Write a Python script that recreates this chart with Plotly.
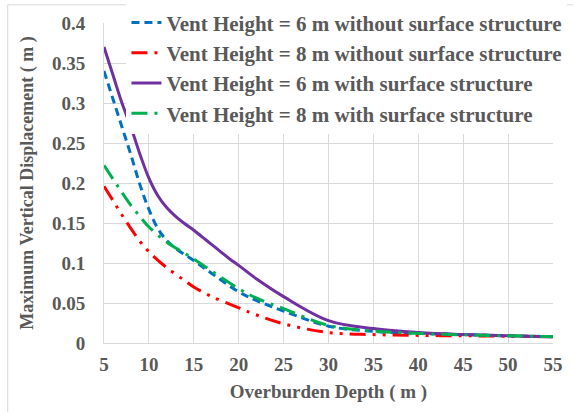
import plotly.graph_objects as go

# Data
x_blue = [5, 6, 7, 8, 9, 10, 11, 12, 13, 15, 17, 20, 22, 25, 30, 35, 40, 45, 50, 55]
y_blue = [0.34, 0.305, 0.27, 0.235, 0.198, 0.167, 0.143, 0.128, 0.118, 0.103, 0.087, 0.064, 0.053, 0.04, 0.021, 0.0145, 0.012, 0.0105, 0.009, 0.008]

x_red = [5, 6, 7, 8, 9, 10, 12, 14, 15, 17, 20, 22, 25, 30, 35, 40, 45, 50, 55]
y_red = [0.196, 0.178, 0.16, 0.143, 0.127, 0.114, 0.094, 0.078, 0.07, 0.058, 0.044, 0.035, 0.024, 0.013, 0.0105, 0.0095, 0.009, 0.0085, 0.008]

x_purple = [5, 6, 7, 8, 9, 10, 11, 12, 13, 14, 15, 16, 17, 18, 19, 20, 22, 25, 30, 35, 40, 45, 50, 55]
y_purple = [0.37, 0.335, 0.3, 0.27, 0.236, 0.206, 0.184, 0.169, 0.158, 0.149, 0.141, 0.132, 0.123, 0.114, 0.105, 0.097, 0.08, 0.058, 0.028, 0.018, 0.013, 0.0105, 0.009, 0.0075]

x_green = [5, 6, 7, 8, 9, 10, 12, 14, 15, 17, 20, 22, 25, 30, 35, 40, 45, 50, 55]
y_green = [0.222, 0.205, 0.188, 0.172, 0.158, 0.145, 0.126, 0.112, 0.105, 0.09, 0.068, 0.056, 0.043, 0.022, 0.015, 0.012, 0.0102, 0.009, 0.008]

names = [
    "Vent Height = 6 m without surface structure",
    "Vent Height = 8 m without surface structure",
    "Vent Height = 6 m with surface structure",
    "Vent Height = 8 m with surface structure",
]

x_ticks = [5, 10, 15, 20, 25, 30, 35, 40, 45, 50, 55]

FONT = "Liberation Serif"
TXT = "#595959"
W, H = 573, 412

fig = go.Figure()
fig.add_trace(go.Scatter(x=x_blue, y=y_blue, mode="lines", name=names[0], legendgroup="a",
                         line=dict(color="#0070C0", width=3, dash="8px,5px", shape="spline")))
fig.add_trace(go.Scatter(x=x_red, y=y_red, mode="lines", name=names[1], legendgroup="b",
                         line=dict(color="#FF0000", width=3, dash="16px,7px,3px,7px,3px,7px", shape="spline")))
fig.add_trace(go.Scatter(x=x_purple, y=y_purple, mode="lines", name=names[2], legendgroup="c",
                         line=dict(color="#7030A0", width=3, shape="spline")))
fig.add_trace(go.Scatter(x=x_green, y=y_green, mode="lines", name=names[3], legendgroup="d",
                         line=dict(color="#00B050", width=3, dash="16px,7px,3px,7px", shape="spline")))

pl, pr, pt, pb = 103.5, 553.5, 22.7, 342.7
pw, ph = pr - pl, pb - pt

def px(xp):
    return (xp - pl) / pw

def py(yp):
    return (pb - yp) / ph

fig.update_layout(
    width=W, height=H,
    margin=dict(l=pl, r=W - pr, t=pt, b=H - pb, pad=0, autoexpand=False),
    paper_bgcolor="white", plot_bgcolor="white",
    font=dict(family=FONT, color=TXT),
    showlegend=True,
    legend=dict(
        x=px(126), y=py(2), xanchor="left", yanchor="top",
        bgcolor="white", font=dict(family=FONT, size=21, color=TXT),
        traceorder="grouped", tracegroupgap=0, itemwidth=30,
    ),
    xaxis=dict(
        range=[5, 55], tickvals=x_ticks, showgrid=True, gridcolor="#D9D9D9", gridwidth=1,
        zeroline=False, showline=True, linecolor="#D9D9D9", linewidth=1,
        tickfont=dict(family=FONT, size=19, color=TXT, weight="bold"),
        ticklabelstandoff=4,
        title=dict(text="<b>Overburden Depth ( m )</b>", font=dict(family=FONT, size=19, color=TXT), standoff=10),
        ticks="", ticklen=0,
    ),
    yaxis=dict(
        range=[0, 0.4], dtick=0.05, tick0=0, showgrid=True, gridcolor="#D9D9D9", gridwidth=1,
        zeroline=False, showline=True, linecolor="#D9D9D9", linewidth=1,
        tickfont=dict(family=FONT, size=19, color=TXT, weight="bold"),
        ticklabelstandoff=14,
        title=dict(text="<b>Maximum Vertical Displacement ( m )</b>", font=dict(family=FONT, size=18, color=TXT), standoff=13),
        ticks="", ticklen=0,
    ),
    shapes=[
        dict(type="line", xref="paper", yref="paper", x0=px(7), x1=px(580), y0=py(4.5), y1=py(4.5),
             line=dict(color="#D9D9D9", width=1)),
        dict(type="line", xref="paper", yref="paper", x0=px(7), x1=px(7), y0=py(4.5), y1=py(420),
             line=dict(color="#D9D9D9", width=1)),
    ],
)
fig.for_each_trace(lambda t: t.update(name="<b>" + t.name + "</b>"))

fig.write_html("out.html")
